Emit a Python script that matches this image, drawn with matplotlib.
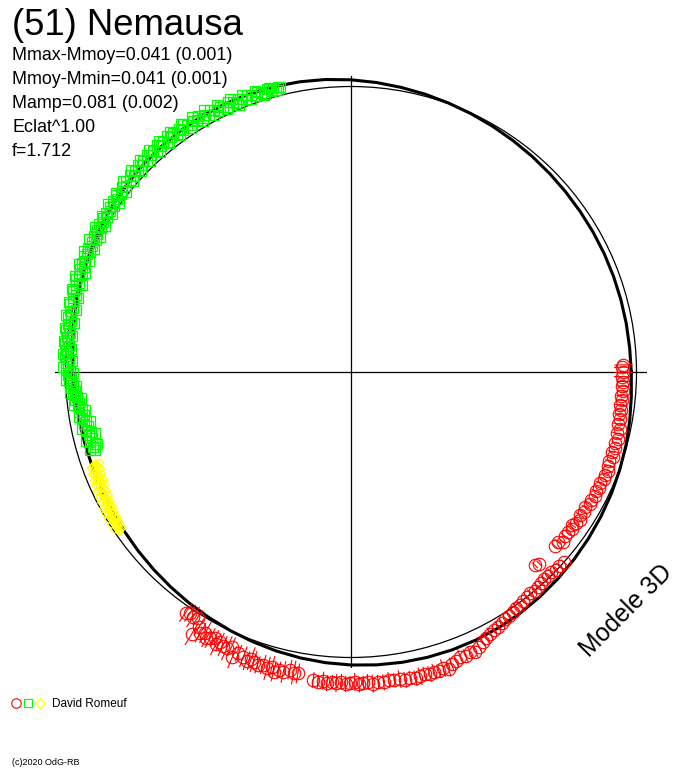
import numpy as np
import matplotlib
matplotlib.use("Agg")
import matplotlib.pyplot as plt
from matplotlib.lines import Line2D
from matplotlib.legend_handler import HandlerTuple

plt.rcParams['font.family'] = ['Liberation Sans', 'DejaVu Sans']

# ---------------- texts ----------------
title = "(51) Nemausa"
info_lines = ["Mmax-Mmoy=0.041 (0.001)", "Mmoy-Mmin=0.041 (0.001)",
              "Mamp=0.081 (0.002)", "Eclat^1.00", "f=1.712"]
observer = "David Romeuf"
copyright_text = "(c)2020 OdG-RB"
model_label = "Modele 3D"

# ---------------- data (phase in degrees, radius in plot units) ----------------
ref_radius = 285.5
axis_radius = 296

model_phase = [0, 5, 10, 15, 20, 25, 30, 35, 40, 45, 50, 55, 60, 65, 70, 75, 80, 85,
               90, 95, 100, 105, 110, 115, 120, 125, 130, 135, 140, 145, 150, 155,
               160, 165, 170, 175, 180, 185, 190, 195, 200, 205, 210, 215, 220, 225,
               230, 235, 240, 245, 250, 255, 260, 265, 270, 275, 280, 285, 290, 295,
               300, 305, 310, 315, 320, 325, 330, 335, 340, 345, 350, 355, 360]
model_radius = [280.3, 279.7, 279.5, 279.4, 279.4, 279.5, 279.6, 279.8, 280.2, 280.8,
                281.6, 282.5, 283.6, 284.8, 286.1, 287.5, 289.0, 290.6, 292.2, 293.6,
                294.7, 295.5, 296.0, 296.2, 296.0, 295.5, 294.7, 293.6, 292.3, 290.8,
                289.1, 287.3, 285.4, 283.5, 281.6, 279.8, 278.3, 277.0, 276.1, 275.6,
                275.5, 275.7, 276.2, 277.0, 278.0, 279.2, 280.6, 282.1, 283.7, 285.4,
                287.1, 288.8, 290.4, 291.8, 293.0, 294.0, 294.8, 295.4, 295.7, 295.7,
                295.3, 294.6, 293.6, 292.5, 291.3, 290.0, 288.7, 287.4, 286.0, 284.6,
                283.0, 281.4, 280.3]

green_phase = [104.0, 104.6, 105.3, 105.9, 106.6, 107.2, 107.9, 108.5, 109.2, 109.8,
               110.5, 111.1, 111.8, 112.4, 113.1, 113.7, 114.4, 115.0, 115.7, 116.3,
               117.0, 117.6, 118.3, 118.9, 119.6, 120.2, 120.9, 121.5, 122.2, 122.8,
               123.5, 124.1, 124.8, 125.4, 126.1, 126.7, 127.4, 128.0, 128.7, 129.3,
               130.0, 130.6, 131.3, 131.9, 132.6, 133.2, 133.9, 134.5, 135.2, 135.8,
               136.5, 137.1, 137.8, 138.4, 139.1, 139.7, 140.4, 141.0, 141.7, 142.3,
               143.0, 143.6, 144.3, 144.9, 145.6, 146.2, 146.9, 147.5, 148.2, 148.8,
               149.5, 150.1, 150.8, 151.4, 152.1, 152.7, 153.4, 154.0, 154.7, 155.3,
               156.0, 156.6, 157.3, 157.9, 158.6, 159.2, 159.9, 160.5, 161.2, 161.8,
               162.5, 163.1, 163.8, 164.4, 165.1, 165.7, 166.4, 167.0, 167.7, 168.3,
               169.0, 169.6, 170.3, 170.9, 171.6, 172.2, 172.9, 173.5, 174.2, 174.8,
               175.5, 176.1, 176.8, 177.4, 178.1, 178.7, 179.4, 180.0, 180.6, 181.3,
               181.9, 182.6, 183.2, 183.9, 184.5, 185.2, 185.8, 186.5, 187.1, 187.8,
               188.4, 189.1, 189.7, 190.4, 191.0, 191.7, 192.3, 193.0, 193.6, 194.3,
               194.9, 195.6, 196.2, 196.9,
               104.3, 105.0, 106.2, 107.5, 108.8, 110.1, 111.4, 112.8, 114.0, 115.3,
               116.7, 118.0, 119.3, 120.6, 121.9, 123.2, 124.5, 125.8, 127.1, 128.4,
               129.7, 131.0, 132.3, 133.6, 134.9, 136.2, 137.5, 138.8, 140.1, 141.4,
               142.7, 144.0, 145.3, 146.6, 147.9, 149.2, 150.5, 151.8, 153.1, 154.4,
               155.7, 157.0, 158.3, 159.6, 160.9, 162.2, 163.5, 164.8, 166.1, 167.4,
               168.7, 170.0, 171.3, 172.6, 173.9, 175.2, 176.5, 177.8, 179.1, 180.3,
               181.6, 182.9, 184.2, 185.5, 186.8, 188.1, 189.4, 190.7, 192.0, 193.3,
               194.6, 195.9, 196.6]
green_radius = [293.5, 291.0, 294.5, 292.5, 295.0, 291.5, 293.0, 295.5, 292.0, 294.0,
                296.0, 291.5, 293.5, 295.5, 292.5, 294.5, 297.0, 292.0, 294.5, 296.0,
                293.0, 295.5, 297.5, 293.5, 296.0, 294.0, 298.0, 295.0, 297.0, 293.5,
                296.5, 299.0, 295.0, 297.5, 294.5, 298.5, 296.0, 299.0, 294.5, 297.0,
                295.5, 298.5, 294.5, 297.0, 295.0, 298.0, 293.5, 296.5, 294.0, 297.0,
                293.0, 295.5, 292.5, 296.0, 293.0, 295.0, 291.5, 294.5, 292.0, 290.5,
                294.0, 291.0, 293.0, 289.5, 292.5, 290.0, 292.0, 289.0, 291.5, 289.5,
                292.0, 288.5, 291.0, 289.0, 290.5, 287.5, 290.0, 288.0, 290.5, 287.5,
                289.5, 291.0, 288.0, 290.0, 287.0, 289.5, 286.5, 288.5, 290.0, 286.5,
                288.5, 287.0, 289.5, 285.5, 288.0, 286.5, 289.0, 285.5, 287.5, 286.0,
                288.5, 284.5, 287.0, 285.5, 288.0, 284.0, 286.5, 285.0, 287.5, 283.5,
                286.0, 284.5, 286.5, 282.5, 285.0, 283.0, 285.5, 281.5, 283.5, 280.0,
                282.0, 278.5, 280.5, 276.5, 278.5, 275.0, 277.0, 273.5, 275.5, 272.0,
                274.5, 270.5, 273.0, 269.5, 272.5, 268.5, 271.0, 266.5, 270.0, 267.5,
                270.5, 266.0, 269.0, 267.5,
                294.5, 291.5, 295.5, 290.5, 296.5, 290.5, 298.0, 290.0, 298.5, 290.5,
                299.0, 291.0, 300.0, 291.5, 300.5, 292.0, 300.5, 292.0, 300.5, 292.5,
                300.5, 291.5, 300.0, 291.0, 299.5, 290.5, 298.5, 289.5, 297.0, 288.5,
                296.0, 287.0, 295.0, 286.5, 294.5, 286.0, 294.0, 285.0, 293.5, 284.5,
                293.0, 284.5, 292.5, 284.0, 292.0, 283.0, 291.5, 282.5, 291.0, 282.0,
                290.5, 281.5, 289.5, 281.0, 289.0, 280.5, 288.5, 279.5, 288.0, 278.5,
                285.0, 275.0, 282.0, 271.5, 278.5, 268.5, 276.0, 266.0, 274.5, 263.0,
                273.5, 264.0, 272.0]

yellow_phase = [199.5, 199.8, 200.1, 200.4, 200.7, 201.0, 201.3, 201.6, 201.9, 202.2,
                202.5, 202.8, 203.1, 203.4, 203.7, 204.0, 204.3, 204.6, 204.9, 205.2,
                205.5, 205.8, 206.1, 206.4, 206.7, 207.0, 207.3, 207.6, 207.9, 208.2,
                208.5, 208.8, 209.1, 209.4, 209.7, 210.0, 210.3, 210.6, 210.9, 211.2,
                211.5, 211.8, 212.1, 212.4, 212.7, 213.0, 213.3, 213.6, 213.9,
                199.6, 200.2, 200.9, 201.5, 202.1, 202.7, 203.3, 203.9, 204.5, 205.1,
                205.7, 206.3, 206.9, 207.5, 208.1, 208.7, 209.3, 209.9, 210.5, 211.1,
                211.7, 212.3, 212.9, 213.5, 214.1, 214.5]
yellow_radius = [271.5, 274.0, 270.5, 273.0, 275.0, 271.5, 273.5, 276.0, 272.5, 274.5,
                 271.5, 275.5, 273.0, 276.5, 274.0, 272.5, 276.0, 274.0, 277.0, 273.5,
                 276.0, 278.0, 274.5, 277.0, 275.0, 278.5, 276.0, 274.5, 278.0, 276.0,
                 279.0, 275.5, 277.5, 280.0, 276.5, 278.5, 281.0, 277.0, 279.5, 277.5,
                 280.5, 278.0, 281.0, 279.0, 277.5, 280.5, 278.5, 281.5, 279.0,
                 268.0, 277.0, 268.5, 278.0, 269.5, 279.0, 270.0, 280.0, 270.5, 280.5,
                 271.5, 281.0, 272.5, 282.0, 273.0, 283.0, 273.5, 283.5, 274.5, 284.0,
                 275.5, 284.5, 276.0, 284.5, 276.5, 281.0]

red_phase = [235.5, 236.3, 237.2, 238.0,
             238.7, 239.2, 240.0, 240.8, 241.5, 242.1, 242.9, 243.6, 244.1, 244.9,
             245.8, 246.5, 247.4, 248.2, 249.3, 250.1, 250.8, 251.4, 252.3, 253.3,
             254.2, 255.0, 255.5, 256.4, 257.3, 258.4, 259.2, 260.0,
             263.0, 263.9, 264.8, 265.6, 266.5, 267.3, 268.2, 269.0, 269.8, 270.7,
             271.5, 272.3, 273.1, 274.0, 275.0, 276.0, 277.0, 278.0, 279.0, 280.0,
             281.0, 281.9, 282.8, 283.7, 284.6, 285.5, 286.4, 287.3, 288.2,
             289.0, 290.0, 291.0, 292.0, 293.0, 294.0, 295.0, 296.0, 297.0, 298.0,
             299.0, 300.0, 301.0, 302.0, 303.0, 304.0, 305.0, 306.0, 307.0, 308.0,
             309.0, 310.0, 311.0, 312.0, 313.0, 314.0, 315.0, 316.0, 317.0, 318.2,
             313.6, 314.5, 319.5, 320.6,
             321.3, 322.5, 323.5, 324.5, 325.3, 326.2,
             327.0, 328.0, 329.0, 330.0, 331.0, 332.0, 333.0, 334.0, 335.0, 336.0,
             337.0, 338.0, 339.0, 340.0, 341.0, 342.0, 343.0, 344.0, 345.0, 346.0,
             347.0, 348.0, 349.0, 350.0, 351.0, 352.0, 353.0, 354.0, 355.0, 356.0,
             357.0, 358.0, 359.0,
             0.0, 1.0, 1.5]
red_radius = [292.0, 290.0, 291.5, 289.5,
              306.5, 297.0, 301.0, 298.5, 303.0, 301.0, 299.0, 304.0, 300.0, 302.5,
              303.0, 299.5, 309.0, 303.0, 304.5, 307.0, 303.5, 305.5, 307.5, 305.5,
              308.0, 305.0, 309.5, 307.0, 307.5, 304.0, 306.0, 306.0,
              310.5, 311.5, 310.0, 312.0, 310.5, 311.5, 310.0, 312.0, 311.0, 310.0,
              312.5, 311.0, 310.5, 312.5, 311.0, 312.0, 310.5, 311.5, 311.0, 312.5,
              311.5, 313.0, 312.0, 310.5, 312.0, 311.0, 311.5, 310.0, 312.5,
              309.0, 307.5, 305.0, 306.0, 304.0, 306.0, 303.0, 300.0, 298.0, 296.5,
              295.0, 294.0, 293.0, 291.5, 290.5, 289.5, 288.0, 287.5, 286.5, 286.0,
              285.0, 285.5, 284.5, 284.0, 283.5, 284.0, 283.0, 284.5, 285.0, 285.5,
              267.0, 268.5, 268.0, 267.5,
              271.5, 270.0, 269.5, 271.0, 268.5, 271.0,
              272.5, 270.0, 272.0, 270.5, 273.0, 272.0, 273.5, 272.5, 274.0, 273.0,
              275.0, 274.0, 275.5, 274.0, 273.0, 275.0, 272.5, 274.5, 273.5, 275.0,
              273.0, 274.5, 272.0, 273.5, 271.5, 273.0, 271.5, 272.5, 271.0, 273.0,
              271.5, 272.5, 271.0,
              272.0, 271.0, 272.5]
red_err = [11, 10, 12, 9,
           13, 10, 11, 12, 10, 11, 9, 12, 10, 11, 13, 10, 12, 9, 11, 10, 12, 11, 9, 10,
           12, 11, 10, 9, 11, 10, 12, 10,
           8, 7, 9, 8, 7, 9, 8, 8, 7, 9, 8, 7, 8, 9, 7, 8, 8, 7, 9, 8, 7, 8, 9, 7, 8, 8,
           7, 9, 8,
           7, 6, 8, 7, 6, 7, 6, 5, 6, 7, 5, 6, 5, 6, 5, 5, 6, 5, 4, 5, 5, 4, 5, 4, 5, 4,
           5, 4, 5, 4,
           4, 4, 4, 4,
           4, 5, 4, 4, 5, 4,
           4, 5, 4, 4, 5, 4, 4, 5, 4, 5, 4, 4, 5, 4, 4, 5, 4, 5, 4, 4, 5, 4, 5, 4, 5, 5,
           6, 5, 6, 5, 6, 7, 8,
           9, 8, 9]

assert len(green_phase) == len(green_radius)
assert len(yellow_phase) == len(yellow_radius)
assert len(red_phase) == len(red_radius) == len(red_err)
assert len(model_phase) == len(model_radius)

RED = "#ff0000"
GREEN = "#00ff00"
YELLOW = "#ffff00"

# ---------------- figure ----------------
W, H = 688, 768
fig = plt.figure(figsize=(W / 100, H / 100), dpi=100)
fig.patch.set_facecolor("white")

cx, cy = 351, 372
R = axis_radius
ax = fig.add_axes([(cx - R) / W, (H - cy - R) / H, 2 * R / W, 2 * R / H],
                  projection="polar")
ax.set_ylim(0, R)
ax.set_xticks(np.deg2rad([0, 90, 180, 270]))
ax.set_yticks([ref_radius])
ax.set_xticklabels([])
ax.set_yticklabels([])
ax.tick_params(length=0)
ax.grid(True, color="black", lw=0.9)
ax.spines["polar"].set_visible(False)
ax.patch.set_visible(False)

# model curve
ax.plot(np.deg2rad(model_phase), model_radius, color="black", lw=2.2,
        clip_on=False, zorder=2)

# observations
ax.plot(np.deg2rad(green_phase), green_radius, ls="none", marker="s", ms=6.6,
        mfc="none", mec=GREEN, mew=0.9, clip_on=False, zorder=3)
ax.plot(np.deg2rad(yellow_phase), yellow_radius, ls="none", marker="D", ms=3.8,
        mfc="none", mec=YELLOW, mew=0.9, clip_on=False, zorder=3)
eb = ax.errorbar(np.deg2rad(red_phase), red_radius, yerr=red_err, fmt="none",
                 ecolor=RED, elinewidth=0.8, capsize=0, zorder=3)
for coll in eb.lines[2]:
    coll.set_clip_on(False)
ax.plot(np.deg2rad(red_phase), red_radius, ls="none", marker="o", ms=9,
        mfc="none", mec=RED, mew=0.8, clip_on=False, zorder=4)

# ---------------- texts ----------------
fig.text(12 / W, 1 - 35 / H, title, fontsize=26.3, ha="left", va="baseline")
for i, line in enumerate(info_lines):
    fig.text(12 / W, 1 - (59.5 + 24.2 * i) / H, line, fontsize=12.9,
             ha="left", va="baseline")

fig.text(626 / W, 1 - 611 / H, model_label, fontsize=17.8, rotation=45,
         rotation_mode="anchor", ha="center", va="center")

fig.text(12 / W, 1 - 765 / H, copyright_text, fontsize=6.5, ha="left",
         va="baseline")

h_r = Line2D([], [], ls="none", marker="o", ms=6.8, mfc="none", mec=RED, mew=0.8)
h_g = Line2D([], [], ls="none", marker="s", ms=5.2, mfc="none", mec=GREEN, mew=0.8)
h_y = Line2D([], [], ls="none", marker="D", ms=5.5, mfc="none", mec=YELLOW, mew=0.8)
fig.legend(handles=[(h_r, h_g, h_y)], labels=[observer],
           handler_map={tuple: HandlerTuple(ndivide=None, pad=0)},
           loc="center left", bbox_to_anchor=(10 / W, 1 - 704 / H),
           frameon=False, fontsize=8.5, handlelength=3.0, handletextpad=0.6,
           borderpad=0, borderaxespad=0)

fig.savefig("out.png", dpi=100, facecolor="white")
